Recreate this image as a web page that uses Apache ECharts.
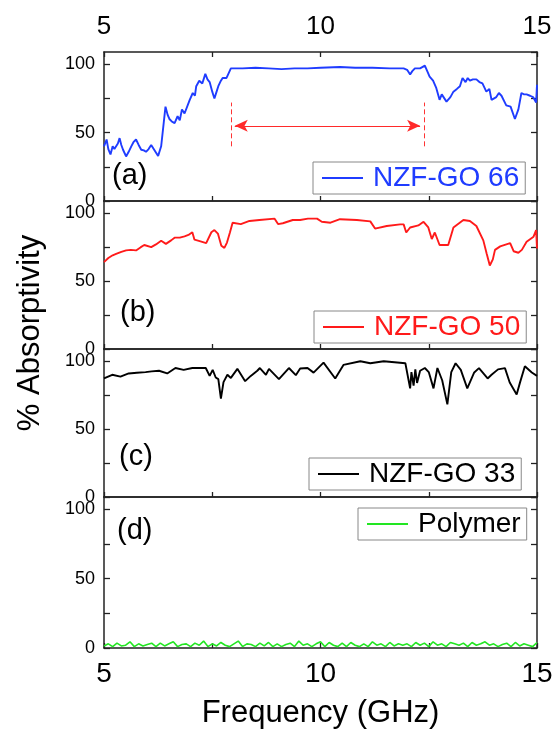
<!DOCTYPE html>
<html>
<head>
<meta charset="utf-8">
<script src="https://cdn.jsdelivr.net/npm/echarts@6/dist/echarts.min.js"></script>
<style>html,body{margin:0;padding:0;background:#fff;}#c{width:556px;height:733px;}</style>
</head>
<body>
<div id="c"></div>
<script>
// ---- data ----
const freqA = [5.0,5.06,5.1,5.15,5.2,5.24,5.28,5.32,5.36,5.4,5.44,5.51,5.57,5.63,5.68,5.74,5.8,5.86,5.92,5.97,6.03,6.09,6.17,6.25,6.32,6.42,6.47,6.51,6.57,6.63,6.7,6.75,6.8,6.86,6.9,6.98,7.05,7.1,7.13,7.2,7.27,7.34,7.39,7.44,7.5,7.55,7.6,7.64,7.7,7.74,7.83,7.93,8.2,8.5,8.8,9.1,9.4,9.7,10.0,10.45,10.8,11.2,11.6,11.92,12.0,12.07,12.12,12.18,12.3,12.41,12.52,12.6,12.67,12.75,12.8,12.84,12.91,13.0,13.07,13.15,13.22,13.28,13.35,13.4,13.45,13.52,13.6,13.67,13.74,13.83,13.9,13.95,14.06,14.12,14.18,14.29,14.39,14.49,14.57,14.64,14.7,14.76,14.84,14.91,14.98,15.0];
const valA  = [40,45,38,34,40,38,37.5,42,46,41,37.5,32.6,36,40,43,45,41,37.5,37,36,38,41,37,33,40,69,63,60,58,57,62,59,67,64,64,74,79,77,84,88,86,93,89,87,80,75,80,84,88,90,90,97,97,97.5,97,96.5,97,97,97.5,98,97.5,97.5,97,97,96,92.6,95,97,97,99,91,88,83,74,78,77,72.7,76,80,82,84,90,87,90,88,89,89,87,86,80,82,74,76,79,77,70,69,60,67,79,78,78,77,76,72,85];

const freqB = [5.0,5.1,5.2,5.28,5.4,5.51,5.62,5.74,5.85,5.93,6.09,6.2,6.32,6.43,6.55,6.63,6.75,6.86,6.95,7.04,7.09,7.21,7.36,7.48,7.55,7.63,7.71,7.78,7.84,7.91,7.97,8.16,8.36,8.59,8.94,9.02,9.13,9.36,9.53,9.71,9.92,10.03,10.23,10.45,10.84,11.15,11.26,11.53,11.84,11.92,11.98,12.07,12.26,12.38,12.49,12.57,12.64,12.75,12.95,13.07,13.3,13.45,13.6,13.76,13.84,13.91,13.98,14.03,14.15,14.38,14.46,14.57,14.65,14.76,14.92,14.98,15.0];
const valB  = [64,67,69,70,71.5,72.6,73,72.6,75,76.6,75,77,79.7,77.4,80,82,82,83,84,86,80.5,79.5,78,86,87.6,85,76,74.5,78.4,86,93,92,94.3,95,96,92,92.6,95,95,96,96,93.7,93,95.6,95,94,88.7,90.6,91.8,91.8,85.8,89.5,91,93.7,89.5,81,85.8,76.6,76.6,89.5,95,94.3,90.6,80,70,61.5,66,73,75.6,78,72,70.9,73,79,82.7,87.6,74];

const freqC = [5.0,5.19,5.38,5.57,5.76,5.96,6.1,6.27,6.46,6.65,6.84,7.04,7.35,7.44,7.51,7.58,7.64,7.7,7.76,7.85,7.93,8.08,8.26,8.39,8.54,8.6,8.74,8.81,9.04,9.27,9.43,9.53,9.7,9.84,10.07,10.34,10.53,10.92,11.15,11.46,11.96,12.07,12.1,12.15,12.19,12.23,12.3,12.41,12.5,12.61,12.7,12.81,12.93,13.02,13.12,13.24,13.39,13.55,13.66,13.86,13.95,14.1,14.26,14.37,14.53,14.61,14.72,14.88,15.0];
const valC  = [87.3,90,88.6,91,91.5,92,92.5,93,91,95,93.6,95,95,89.2,93.6,88,86.8,72.5,84.6,90,87.7,94.4,85.3,89.2,93,95,90,94.4,86.8,95,89.7,94.6,95,91.6,99,87.3,97.3,100,98.5,100,98.5,80,92,82,94,84,93,95,92,80,95,86,68.2,92,98.5,93.6,80,91.7,94.9,87.3,90,94,94.9,84.3,75.5,84.6,96.3,91.7,89.2];

const freqD = [5.0,5.1,5.2,5.3,5.4,5.5,5.6,5.7,5.8,5.9,
               6.0,6.1,6.2,6.3,6.4,6.5,6.6,6.7,6.8,6.9,
               7.0,7.1,7.2,7.3,7.4,7.5,7.6,7.7,7.8,7.9,
               8.0,8.1,8.2,8.3,8.4,8.5,8.6,8.7,8.8,8.9,
               9.0,9.1,9.2,9.3,9.4,9.5,9.6,9.7,9.8,9.9,
               10.0,10.1,10.2,10.3,10.4,10.5,10.6,10.7,10.8,10.9,
               11.0,11.1,11.2,11.3,11.4,11.5,11.6,11.7,11.8,11.9,
               12.0,12.1,12.2,12.3,12.4,12.5,12.6,12.7,12.8,12.9,
               13.0,13.1,13.2,13.3,13.4,13.5,13.6,13.7,13.8,13.9,
               14.0,14.1,14.2,14.3,14.4,14.5,14.6,14.7,14.8,14.9,15.0];
const valD  = [1.5,3,1,3.5,1.5,2,4.5,1,3,1.5,
               2.5,3.5,1,3.5,1.5,3,4.5,1,2.5,3,
               1,3.5,2,5,1,3,1.5,4,2,1,
               3,5,1,3,2.5,1,3.5,1.5,4,1,
               3,1,2.5,3.5,1,5,2,3,1,3,
               4.5,1,4,2,1,3.5,1,4,2,1,
               3,1,4.5,2,3,1,4,1.5,3,2,
               3,1,4,2,3.5,1,4.5,2,3,1,
               4,3,2,3.5,1,4,2,3,4.5,2,
               3,1,2.5,3.5,1,4,1.5,3,2,1,4];

const seriesNames = ['NZF-GO 66','NZF-GO 50','NZF-GO 33','Polymer'];
const panelLabels = ['(a)','(b)','(c)','(d)'];
const xTickLabels = [5,10,15];
const yTickLabels = [0,50,100];
// bandwidth annotation in panel (a): [freq, absorptivity]
const bandEdges = [7.93, 12.39];
const bandEdgeRange = [40, 72];
const bandArrow = [[8.02, 55], [12.3, 55]];

// ---- layout ----
const colors = ['#1f3cff','#ff1a1a','#000000','#22e622'];
const textColors = ['#1f3cff','#ff1a1a','#000000','#000000'];
const tops = [52, 201, 349, 497];
const heights = [149, 148, 148, 151];
const legendPos = [[313,162],[314,311],[309,458],[358,508]];
const labelPos = [[112,177],[120,314],[119,458],[117,532]];
const FONT = 'Liberation Sans, Arial, sans-serif';

const pairs = (f, v) => f.map((x, i) => [x, v[i]]);
const allData = [pairs(freqA,valA), pairs(freqB,valB), pairs(freqC,valC), pairs(freqD,valD)];

const grid = [], xAxis = [], yAxis = [], series = [], legend = [], graphic = [];
const axisLineStyle = {color:'#222', width:1.5};
const tickStyle = {color:'#222', width:1.3};

for (let i = 0; i < 4; i++) {
  grid.push({left:104, width:433, top:tops[i], height:heights[i], containLabel:false});
  // bottom x axis
  xAxis.push({
    type:'value', gridIndex:i, min:5, max:15, interval:2.5, position:'bottom',
    axisLine:{show:true, onZero:false, lineStyle:axisLineStyle},
    axisTick:{show:true, inside:true, length:5, lineStyle:tickStyle},
    splitLine:{show:false},
    axisLabel:{show:i===3, margin:12, color:'#000', fontSize:28, fontFamily:FONT,
      formatter:v => xTickLabels.includes(v) ? String(v) : ''},
    name: i===3 ? 'Frequency (GHz)' : '',
    nameLocation:'middle', nameGap:50,
    nameTextStyle:{fontSize:31, color:'#000', fontFamily:FONT}
  });
  // top x axis
  xAxis.push({
    type:'value', gridIndex:i, min:5, max:15, interval:2.5, position:'top',
    axisLine:{show:true, onZero:false, lineStyle:axisLineStyle},
    axisTick:{show:i===0, inside:true, length:5, lineStyle:tickStyle},
    splitLine:{show:false},
    axisLabel:{show:i===0, margin:12, color:'#000', fontSize:26, fontFamily:FONT,
      formatter:v => xTickLabels.includes(v) ? String(v) : ''}
  });
  // left y axis
  yAxis.push({
    type:'value', gridIndex:i, min:0, max:109, interval:25, position:'left',
    axisLine:{show:true, onZero:false, lineStyle:axisLineStyle},
    axisTick:{show:true, inside:true, length:6, lineStyle:tickStyle},
    splitLine:{show:false},
    axisLabel:{show:true, margin:9, color:'#000', fontSize:18, fontFamily:FONT, showMaxLabel:false,
      formatter:v => yTickLabels.includes(v) ? String(v) : ''}
  });
  // right y axis
  yAxis.push({
    type:'value', gridIndex:i, min:0, max:109, interval:25, position:'right',
    axisLine:{show:true, onZero:false, lineStyle:axisLineStyle},
    axisTick:{show:true, inside:true, length:6, lineStyle:tickStyle},
    splitLine:{show:false},
    axisLabel:{show:false}
  });
  const s = {
    name:seriesNames[i], type:'line', xAxisIndex:2*i, yAxisIndex:2*i,
    data:allData[i], symbol:'none', smooth:false,
    lineStyle:{color:colors[i], width:i===3?1.6:1.9}, itemStyle:{color:colors[i]},
    animation:false, z:3
  };
  if (i === 0) {
    s.markLine = {
      silent:true, animation:false, symbol:['none','none'], label:{show:false},
      data:[
        [{coord:[bandEdges[0], bandEdgeRange[0]], lineStyle:{type:[5,3], color:'#ff3333', width:1}},
         {coord:[bandEdges[0], bandEdgeRange[1]]}],
        [{coord:[bandEdges[1], bandEdgeRange[0]], lineStyle:{type:[5,3], color:'#ff3333', width:1}},
         {coord:[bandEdges[1], bandEdgeRange[1]]}],
        [{coord:bandArrow[0], symbol:'arrow', symbolSize:[9,13], lineStyle:{type:'solid', color:'#ff2a2a', width:1}},
         {coord:bandArrow[1], symbol:'arrow', symbolSize:[9,13]}]
      ]
    };
  }
  series.push(s);
  legend.push({
    data:[seriesNames[i]], left:legendPos[i][0], top:legendPos[i][1],
    orient:'horizontal', itemWidth:41, itemHeight:2, icon:'rect',
    padding:[2,6,2,9], borderColor:'#888', borderWidth:1, backgroundColor:'#fff',
    selectedMode:false,
    textStyle:{color:textColors[i], fontSize:28, fontFamily:FONT, padding:[0,0,0,5]},
    itemStyle:{color:colors[i]}
  });
  graphic.push({
    type:'text', left:labelPos[i][0], top:labelPos[i][1]-16, silent:true,
    style:{text:panelLabels[i], fill:'#000', fontSize:29, fontFamily:FONT}
  });
}
graphic.push({
  type:'text', rotation:Math.PI/2, silent:true,
  style:{text:'% Absorptivity', fill:'#000', fontSize:31, fontFamily:FONT, align:'center', verticalAlign:'middle'},
  x:30, y:333
});

const chart = echarts.init(document.getElementById('c'), null, {renderer:'canvas'});
chart.setOption({
  backgroundColor:'#fff', animation:false,
  grid, xAxis, yAxis, series, legend, graphic
});
</script>
</body>
</html>
